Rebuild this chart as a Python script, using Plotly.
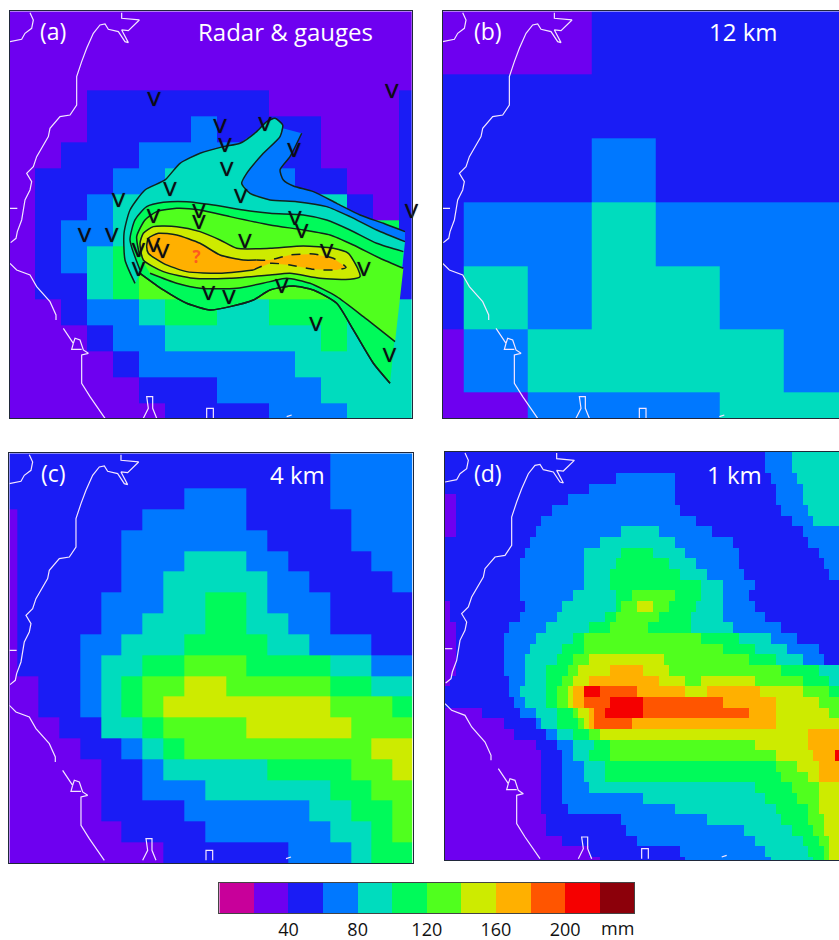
import plotly.graph_objects as go

# rainfall classes (mm)
CLASS_EDGES = [0, 20, 40, 60, 80, 100, 120, 140, 160, 180, 200, 220, 240]
CLASS_COLORS = ["#c8009a", "#6e00f0", "#1a1cf5", "#0078ff", "#00dcbe", "#00fa5a",
                "#50ff1e", "#cdeb00", "#ffb000", "#ff5500", "#f50000", "#8c000a"]
CLASS_MM = {"M": 10, "P": 30, "B": 50, "L": 70, "T": 90, "S": 110, "G": 130, "Y": 150,
            "O": 170, "D": 190, "R": 210, "K": 230}
TICKS = [40, 80, 120, 160, 200]

# Each row: class letter + map coordinate where that class stops
A_X = [30, 106, 184, 262, 340, 418, 496, 574, 652, 730, 808, 886, 964, 1042, 1120, 1198, 1235]
A_Y = [34, 116, 194, 272, 350, 428, 506, 584, 662, 740, 820, 898, 976, 1054, 1132, 1210, 1255]
A_ROWS = [
    "P1235", "P1235", "P1235",
    "P262 B808 P1198 B1235",
    "P262 B574 L652 B964 P1198 B1235",
    "P184 B418 L808 B964 P1198 B1235",
    "P106 B340 L496 T808 L886 B1042 P1198 B1235",
    "P106 B262 L340 T1042 B1120 P1198 B1235",
    "P106 B184 L340 T418 S1198 B1235",
    "P106 B184 L262 T340 S1198 B1235",
    "P106 B262 T340 S418 G1198 B1235",
    "P184 B262 L418 T496 S652 T808 S1042 T1235",
    "P262 B340 L496 T964 S1042 T1235",
    "P340 B418 L886 T1235",
    "P418 B652 L964 T1235",
    "P496 B808 L1042 T1235",
]

B_X = [38, 102, 294, 486, 678, 870, 1062, 1230]
B_Y = [34, 222, 414, 606, 798, 988, 1178, 1255]
B_ROWS = [
    "P486 B1230",
    "B1230",
    "B486 L678 B1230",
    "B102 L486 T678 L1230",
    "B102 T294 L486 T870 L1230",
    "P102 L294 T1062 L1230",
    "P294 L870 T1230",
]

C_X = [28, 52, 115, 178, 240, 303, 365, 428, 490, 553, 615, 678, 740, 803, 865, 928, 990, 1053, 1115, 1178, 1238]
C_Y = [40, 82, 145, 208, 270, 333, 395, 458, 520, 583, 645, 708, 770, 832, 895, 957, 1020, 1082, 1145, 1208, 1270]
C_ROWS = [
    "B990 L1238",
    "B990 L1238",
    "B553 L740 B990 L1238",
    "P52 B428 L740 B1053 L1238",
    "P52 B365 L803 B1053 L1238",
    "P52 B365 L553 T740 L865 B1115 L1238",
    "P52 B365 L490 T803 L928 B1178 L1238",
    "P52 B303 L490 T615 S740 T803 L990 B1238",
    "P52 B303 L428 T615 S740 T865 L990 B1238",
    "P52 B240 L365 T553 S803 T928 L1115 B1238",
    "P52 B240 L303 T428 S553 G740 S990 T1115 L1238",
    "P115 B240 L303 T365 S428 G553 Y678 G990 S1115 T1238",
    "P115 B240 L303 T365 S428 G490 Y990 G1178 S1238",
    "P178 B303 T428 S490 G740 Y1053 G1238",
    "P240 B365 L428 T490 S553 G1115 Y1238",
    "P303 B428 L490 T803 S1053 G1178 Y1238",
    "P303 B428 L615 T990 S1115 G1238",
    "P303 B553 L928 T1053 S1178 G1238",
    "P365 B615 L990 T1115 S1178 G1238",
    "P490 B865 L1053 T1115 S1238",
]

D_ROWS = [
    "B1000 L1080 T1230",
    "B1005 L1085 T1230",
    "B555 L730 B1025 L1100 T1230",
    "B475 L735 B1035 L1110 T1230",
    "P75 B420 L735 B1035 L1110 T1230",
    "P75 B370 L755 B1055 L1130 T1230",
    "P75 B340 L800 B1085 L1145 T1230",
    "P75 B320 L570 T690 L850 B1110 L1230",
    "B305 L515 T735 L910 B1135 L1230",
    "B285 L465 T570 S670 T765 L920 B1160 L1230",
    "B265 L455 T555 S720 T805 L930 B1180 L1230",
    "B265 L460 T540 S755 T835 L945 B1200 L1230",
    "B268 L465 T545 S810 T875 L970 B1230",
    "B270 L430 T565 S610 G735 S810 T880 L965 B1230",
    "P65 B280 L405 T550 S575 G625 Y665 G715 S790 T875 L980 B1230",
    "P65 B270 L385 T525 S555 G680 S780 T880 L1010 B1230",
    "P75 B240 L345 T485 S545 G660 S780 T915 L1050 B1230",
    "P75 B220 L310 T430 S465 G810 S920 T1020 L1105 B1230",
    "P75 B215 L295 T400 S455 G875 S975 T1070 L1170 B1230",
    "P80 B215 L290 T375 S425 G470 Y705 G960 S1030 T1110 L1180 B1230",
    "P75 B220 L290 T350 S415 G445 Y540 O640 Y715 G1060 S1160 T1230",
    "P60 B230 L280 T350 S390 G435 Y480 O690 Y770 G820 Y970 G1110 S1200 T1230",
    "B230 L265 T345 S385 G410 Y430 O455 D465 R515 D615 O770 Y830 O985 Y1110 G1205 S1230",
    "B250 L280 T355 S385 G410 Y435 O455 D545 R640 D875 O1040 Y1170 G1230",
    "P150 B270 L310 T375 S430 G450 Y475 O495 D530 R640 D955 O1045 Y1200 G1230",
    "P215 B310 L340 T385 S440 G460 Y485 O500 D610 O1045 Y1230",
    "P255 B345 L385 T430 S475 G515 Y1130 O1230",
    "P310 B380 L430 T490 S535 G970 Y1130 O1230",
    "P330 B405 L425 T470 S535 G1045 Y1150 O1220 R1230",
    "P335 B405 L460 T520 S1040 G1095 Y1160 O1230",
    "P335 B390 L455 T525 S1060 G1130 Y1170 O1230",
    "P335 B390 L470 T970 S1090 G1170 Y1230",
    "P335 B390 L640 T1000 S1100 G1170 Y1230",
    "P335 B415 L740 T1030 S1130 G1170 Y1230",
    "P345 B570 L835 T1060 S1135 G1180 Y1230",
    "P345 B590 L940 T1090 S1150 G1185 Y1230",
    "P400 B620 L980 T1110 S1160 G1200 Y1230",
    "P475 B750 L1005 T1130 S1175 G1200 Y1230",
    "P515 B770 L1015 T1145 S1180 G1205 Y1230",
]
D_X = [45 + 16 * k for k in range(75)]
D_Y = [35 + 32 * k for k in range(40)]

# Contours of the radar & gauge analysis, map coordinates; None = no line drawn (panel edge)
TONGUE = [(905, 400), (870, 470), (840, 510), (850, 540), (880, 558), (940, 575), (1010, 610), (1080, 645),
          (1150, 670), (1215, 695), None, (1215, 725), (1130, 690), (1050, 650), (980, 620), (890, 605), (810, 600),
          (750, 580), (725, 550), (740, 520), (790, 460), (840, 410), (848, 385)]
FINGER = [(405, 850), (375, 780), (372, 700), (390, 630), (435, 570), (495, 540), (540, 490), (600, 460), (670, 440),
          (720, 430), (770, 395), (800, 365), (825, 355), (848, 375), (840, 410), (790, 460), (740, 520), (725, 550),
          (750, 580), (810, 600), (890, 605), (980, 620), (1050, 650), (1130, 690), (1215, 725), None,
          (1170, 1150), (1120, 1090), (1060, 990), (1010, 910), (940, 870), (880, 858), (810, 870), (760, 900),
          (690, 920), (630, 930), (560, 910), (490, 870), (420, 820)]
SPRING = [(420, 810), (390, 720), (405, 660), (440, 620), (490, 607), (560, 605), (640, 615), (730, 630), (810, 640),
          (910, 645), (980, 660), (1050, 690), (1130, 730), (1210, 755), None,
          (1170, 1150), (1120, 1090), (1060, 990), (1010, 910), (940, 870), (880, 858), (810, 870), (760, 900),
          (690, 920), (630, 930), (560, 910), (490, 870), (420, 820)]
GREEN = [(420, 770), (410, 710), (435, 660), (470, 635), (530, 625), (600, 630), (690, 650), (810, 675), (910, 690),
         (990, 705), (1060, 735), (1140, 775), (1210, 805), None,
         (1185, 1025), (1090, 950), (1010, 890), (930, 850), (860, 835), (810, 845), (710, 865), (600, 865),
         (530, 850), (450, 820)]
YELLOW = [(420, 730), (430, 700), (460, 680), (530, 680), (600, 695), (660, 720), (710, 745), (810, 745), (910, 738),
          (1000, 745), (1045, 760), (1075, 810), (1080, 830), (1050, 838), (960, 835), (870, 820), (810, 825),
          (690, 835), (580, 835), (490, 815), (430, 780), (420, 730)]
ORANGE_SOLID = [(770, 780), (730, 780), (660, 765), (600, 730), (530, 705), (475, 700), (445, 715), (440, 740),
                (445, 760), (490, 790), (560, 815), (660, 820), (760, 810)]
ORANGE_DASH = [(760, 810), (810, 790), (870, 795), (940, 808), (1010, 810), (1038, 802), (1000, 775), (940, 762),
               (870, 765), (810, 780), (770, 780)]

GAUGES_X = [462, 1175, 660, 795, 675, 882, 680, 510, 355, 722, 460, 597, 597, 885, 905, 253, 335, 735, 415, 460,
            488, 980, 415, 1092, 625, 687, 845, 948, 1168, 1234]
GAUGES_Y = [297, 275, 378, 372, 437, 452, 508, 568, 600, 590, 648, 635, 668, 655, 695, 705, 705, 725, 750, 735,
            755, 755, 808, 808, 880, 893, 858, 972, 1067, 633]

COAST_X = [90, 100, 95, 75, 65, 30, None,
           32, 48, 52, 65, 75, 90, 95, 80, 100, 110, 145, 150, 180, 210, 230, 230, 245, 260, 280, 300, 315, 325, 355,
           375, 385, 365, 385, 418, 365, 365, None,
           30, 52, None,
           30, 50, 90, 110, 150, 168, 168, None,
           190, 220, 225, 240, 250, 265, 245, 245, 270, 300, 315, None,
           220, 215, 245, None,
           430, 445, 440, 458, 458, 470, None,
           620, 620, 640, 640, None,
           860, 875]
COAST_Y = [38, 60, 85, 100, 118, 125, None,
           728, 715, 695, 660, 600, 570, 545, 520, 500, 470, 410, 385, 350, 345, 315, 230, 185, 145, 100, 75, 72, 88, 95,
           125, 128, 90, 92, 60, 55, 38, None,
           625, 625, None,
           790, 810, 825, 860, 905, 945, 960, None,
           985, 1030, 1015, 1020, 1050, 1060, 1065, 1150, 1190, 1235, 1255, None,
           1030, 1048, 1048, None,
           1255, 1225, 1190, 1190, 1225, 1255, None,
           1255, 1225, 1225, 1255, None,
           1250, 1245]

W, H = 839, 940
FONT = "Open Sans"
SCALE = [[(i + j) / 12, c] for i, c in enumerate(CLASS_COLORS) for j in (0, 1)]


def expand(rows, xs):
    centers = [(a + b) / 2 for a, b in zip(xs[:-1], xs[1:])]
    z = []
    for row in rows:
        runs = [(CLASS_MM[t[0]], float(t[1:])) for t in row.split()]
        line = []
        for c in centers:
            v = runs[-1][0]
            for mm, end in runs:
                if c < end:
                    v = mm
                    break
            line.append(v)
        z.append(line)
    return z


def split(path):
    xs = [p[0] if p else None for p in path]
    ys = [p[1] if p else None for p in path]
    fx = [p[0] for p in path if p]
    fy = [p[1] for p in path if p]
    return xs, ys, fx, fy


PANELS = [
    ("", "", A_X, A_Y, A_ROWS, (10.0, 411.7, 11.3, 418.3), (30, 1235, 34, 1255), True),
    ("2", "2", B_X, B_Y, B_ROWS, (442.7, 839, 11.3, 418.3), (38, 1227, 34, 1255), False),
    ("3", "3", C_X, C_Y, C_ROWS, (9.3, 412.7, 453.3, 863.3), (28, 1238, 40, 1270), True),
    ("4", "4", D_X, D_Y, D_ROWS, (445.0, 839, 451.7, 860.0), (45, 1227, 35, 1260), False),
]

fig = go.Figure()
layout = {}
for xs, ys, ex, ey, rows, px, rng, closed in PANELS:
    xa, ya = "x" + xs, "y" + ys
    fig.add_trace(go.Heatmap(x=ex, y=ey, z=expand(rows, ex), zmin=0, zmax=240, colorscale=SCALE,
                             showscale=False, hoverinfo="skip", xaxis=xa, yaxis=ya))
    if xs == "":
        for path, col in [(TONGUE, CLASS_COLORS[3]), (FINGER, CLASS_COLORS[4]), (SPRING, CLASS_COLORS[5]),
                          (GREEN, CLASS_COLORS[6]), (YELLOW, CLASS_COLORS[7]),
                          (ORANGE_SOLID + ORANGE_DASH, CLASS_COLORS[8])]:
            _, _, fx, fy = split(path)
            fig.add_trace(go.Scatter(x=fx, y=fy, mode="none", fill="toself", fillcolor=col, hoverinfo="skip",
                                     showlegend=False, xaxis=xa, yaxis=ya))
        for path, dash in [(TONGUE[:10], "solid"), (FINGER, "solid"), (SPRING, "solid"), (GREEN, "solid"),
                           (YELLOW, "solid"), (ORANGE_SOLID, "solid"), (ORANGE_DASH, "dash")]:
            lx, ly, _, _ = split(path)
            fig.add_trace(go.Scatter(x=lx, y=ly, mode="lines", line=dict(color="#10241c", width=1.5, dash=dash,
                                                                         shape="spline", smoothing=0.6),
                                     hoverinfo="skip", showlegend=False, xaxis=xa, yaxis=ya))
    dx, dy = rng[0] - 30, rng[2] - 34
    fig.add_trace(go.Scatter(x=[None if v is None else v + dx for v in COAST_X],
                             y=[None if v is None else v + dy for v in COAST_Y],
                             mode="lines", line=dict(color="#f4e6ff", width=1.2), hoverinfo="skip",
                             showlegend=False, xaxis=xa, yaxis=ya))
    if xs == "":
        fig.add_trace(go.Scatter(x=GAUGES_X, y=[v + 5 for v in GAUGES_Y], mode="text", text=["V"] * len(GAUGES_X),
                                 textfont=dict(family="Liberation Sans", size=20, color="#0c0c14",
                                               shadow="0 0 1px #0c0c14"),
                                 textposition="middle center", cliponaxis=False, hoverinfo="skip",
                                 showlegend=False, xaxis=xa, yaxis=ya))
        fig.add_trace(go.Scatter(x=[590], y=[775], mode="text", text=["?"],
                                 textfont=dict(family=FONT, size=17, color="#ff5a1e", weight=700),
                                 textposition="middle center", hoverinfo="skip", showlegend=False,
                                 xaxis=xa, yaxis=ya))
    axis_common = dict(showgrid=False, zeroline=False, ticks="", showticklabels=False, fixedrange=True,
                       showline=True, linecolor="#20283a", linewidth=1, automargin=False)
    layout["xaxis" + xs] = dict(axis_common, domain=[px[0] / W, px[1] / W], range=[rng[0], rng[1]],
                                anchor=ya, mirror=True)
    layout["yaxis" + ys] = dict(axis_common, domain=[1 - px[3] / H, 1 - px[2] / H], range=[rng[3], rng[2]],
                                anchor=xa, mirror=closed)

# Colour key
fig.add_trace(go.Heatmap(x=CLASS_EDGES, y=[0, 1], z=[[(a + b) / 2 for a, b in zip(CLASS_EDGES[:-1], CLASS_EDGES[1:])]],
                         zmin=0, zmax=240, colorscale=SCALE, showscale=False, hoverinfo="skip",
                         xaxis="x5", yaxis="y5"))
layout["xaxis5"] = dict(domain=[219.3 / W, 634.3 / W], range=[0, 240], anchor="y5", tickvals=TICKS, ticks="",
                        tickfont=dict(family=FONT, size=18, color="#111111"), showgrid=False, zeroline=False,
                        showline=True, mirror=True, linecolor="#444444", linewidth=1, fixedrange=True,
                        automargin=False)
layout["yaxis5"] = dict(domain=[1 - 913.3 / H, 1 - 882.7 / H], range=[0, 1], anchor="x5", showticklabels=False,
                        ticks="", showgrid=False, zeroline=False, showline=True, mirror=True,
                        linecolor="#444444", linewidth=1, fixedrange=True, automargin=False)

LABELS = [("(a)", 53, 31, 23), ("Radar & gauges", 285.5, 31, 24), ("(b)", 488, 31, 23), ("12 km", 743, 31, 24),
          ("(c)", 53, 473, 23), ("4 km", 297, 474, 24), ("(d)", 488, 473, 23), ("1 km", 734, 474, 24)]
ann = [dict(text=t, x=x / W, y=1 - y / H, xref="paper", yref="paper", xanchor="center", yanchor="middle",
            showarrow=False, font=dict(family=FONT, size=s, color="white")) for t, x, y, s in LABELS]
ann.append(dict(text="mm", x=617 / W, y=1 - 927.5 / H, xref="paper", yref="paper", xanchor="center",
                yanchor="middle", showarrow=False, font=dict(family=FONT, size=18, color="#111111")))

fig.update_layout(width=W, height=H, margin=dict(l=0, r=0, t=0, b=0, autoexpand=False), paper_bgcolor="white",
                  plot_bgcolor="white", showlegend=False, annotations=ann, **layout)
fig.write_html("out.html", config={"displayModeBar": False},
               post_script="document.body.style.margin='0';document.documentElement.style.overflow='hidden';")
